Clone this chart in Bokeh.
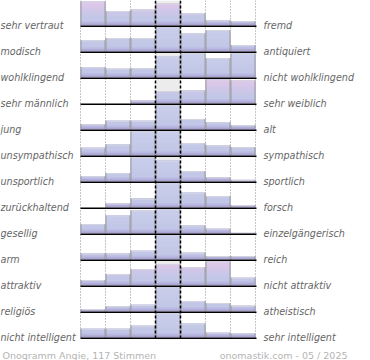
from bokeh.plotting import figure
from bokeh.models import Range1d, ColumnDataSource
from bokeh.core.properties import value
from bokeh.embed import file_html
from bokeh.resources import INLINE

# ---------------- data ----------------
left_labels = ["sehr vertraut", "modisch", "wohlklingend", "sehr männlich", " jung",
               "unsympathisch", "unsportlich", "zurückhaltend", "gesellig", "arm",
               "attraktiv", "religiös", "nicht intelligent"]
right_labels = ["fremd", "antiquiert", "nicht wohlklingend", "sehr weiblich", "alt",
                "sympathisch", "sportlich", "forsch", "einzelgängerisch", "reich",
                "nicht attraktiv", "atheistisch", "sehr intelligent"]

# relative bar heights per row (row maximum = 100), 7 steps from left to right pole
vertraut_fremd = [100, 60, 66, 93, 51, 21, 18]
modisch_antiquiert = [47, 56, 56, 100, 75, 89, 27]
wohlklingend = [43, 36, 39, 87, 100, 80, 99]
maennlich_weiblich = [0, 0, 12, 52, 54, 100, 96]
jung_alt = [22, 36, 36, 100, 44, 30, 18]
sympathisch = [32, 46, 100, 100, 51, 42, 35]
sportlich = [22, 35, 100, 86, 43, 17, 7]
zurueckhaltend_forsch = [0, 17, 37, 100, 61, 48, 10]
gesellig_einzelgaenger = [39, 75, 95, 100, 33, 20, 3]
arm_reich = [25, 25, 36, 100, 28, 14, 14]
attraktiv = [23, 48, 68, 90, 77, 100, 32]
religioes_atheistisch = [10, 21, 28, 100, 43, 35, 24]
intelligent = [36, 36, 49, 100, 58, 20, 17]

rows = [vertraut_fremd, modisch_antiquiert, wohlklingend, maennlich_weiblich, jung_alt,
        sympathisch, sportlich, zurueckhaltend_forsch, gesellig_einzelgaenger, arm_reich,
        attraktiv, religioes_atheistisch, intelligent]

footer_left = "Onogramm Angie, 117 Stimmen"
footer_right = "onomastik.com - 05 / 2025"

# ---------------- layout / style ----------------
X0, COL_W, NCOL = 80, 25, 7
FIRST_BASE, PITCH, FULL_H = 25, 26, 24
GRID_BOTTOM = FIRST_BASE + PITCH * (len(rows) - 1) + 2
pink_rows = {0, 3, 10}
band_edges = [0, 2, 4, 9, 13, 17, 20]
blue_bands = ["#aaa4d4", "#b9b9e1", "#c2c7e7", "#c4c9e8", "#c5cbe9", "#c6cce9", "#c7cdea"]
pink_bands = ["#aaa4d4", "#b9b9e1", "#c2c7e7", "#c8c7e8", "#d0c6e8", "#d8c7e9", "#dec8e9"]

p = figure(width=370, height=360, x_range=Range1d(0, 370), y_range=Range1d(360, 0),
           output_backend="svg", toolbar_location=None, x_axis_type=None, y_axis_type=None,
           min_border=0, outline_line_color=None)
p.background_fill_color = "white"
p.border_fill_color = "white"

# centre column background
p.quad(left=X0 + 3 * COL_W, right=X0 + 4 * COL_W, top=0, bottom=GRID_BOTTOM,
       fill_color="#ececec", line_color=None)

# dotted grid
dot_x = [X0 + k * COL_W for k in (0, 1, 2, 5, 6, 7)]
p.segment(x0=dot_x, y0=[0] * len(dot_x), x1=dot_x, y1=[GRID_BOTTOM] * len(dot_x),
          line_color="#8c8c8c", line_dash="1 2", line_width=1)

# bars as stacked gradient bands
bl, br, bt, bb, bc = [], [], [], [], []
el_x, el_y0, el_y1 = [], [], []
tp_x0, tp_x1, tp_y = [], [], []
for i, row in enumerate(rows):
    base = FIRST_BASE + PITCH * i
    cols = pink_bands if i in pink_rows else blue_bands
    for j, v in enumerate(row):
        h = v / 100 * FULL_H
        if h <= 0:
            continue
        left = X0 + j * COL_W
        for e, c in zip(band_edges, cols):
            if e < h:
                bl.append(left); br.append(left + COL_W)
                bt.append(base - h); bb.append(base - e); bc.append(c)
        el_x += [left + 0.5, left + COL_W - 0.5]
        el_y0 += [base, base]
        el_y1 += [base - h, base - h]
        tp_x0.append(left); tp_x1.append(left + COL_W); tp_y.append(base - h + 0.5)

p.quad(source=ColumnDataSource(dict(l=bl, r=br, t=bt, b=bb, c=bc)),
       left="l", right="r", top="t", bottom="b", fill_color="c", line_color=None)
p.segment(x0=tp_x0, y0=tp_y, x1=tp_x1, y1=tp_y, line_color="#d6d6e0", line_width=1)
p.segment(x0=el_x, y0=el_y0, x1=el_x, y1=el_y1, line_color="#9c9c9c", line_width=1)

# baselines
bases = [FIRST_BASE + PITCH * i + 0.75 for i in range(len(rows))]
p.segment(x0=[X0] * len(bases), y0=bases, x1=[X0 + NCOL * COL_W + 1] * len(bases), y1=bases,
          line_color="#000000", line_width=1.5)

# dashed centre lines
dash_x = [X0 + 3 * COL_W, X0 + 4 * COL_W]
p.segment(x0=dash_x, y0=[0, 0], x1=dash_x, y1=[GRID_BOTTOM] * 2,
          line_color="#000000", line_dash="3 2", line_width=1.5)

# labels
label_y = [FIRST_BASE + PITCH * i - 0.5 for i in range(len(rows))]
p.text(x=[0] * len(rows), y=label_y, text=left_labels, text_font=value("DejaVu Sans"),
       text_font_style="italic", text_font_size="9.6px", text_color="#666666",
       text_baseline="alphabetic", text_align="left")
p.text(x=[263] * len(rows), y=label_y, text=right_labels, text_font=value("DejaVu Sans"),
       text_font_style="italic", text_font_size="9.6px", text_color="#666666",
       text_baseline="alphabetic", text_align="left")

# footer
p.text(x=[2], y=[355], text=[footer_left], text_font=value("DejaVu Sans"),
       text_font_size="9.5px", text_color="#b4b4b4", text_baseline="alphabetic", text_align="left")
p.text(x=[347], y=[355], text=[footer_right], text_font=value("DejaVu Sans"),
       text_font_size="9.5px", text_color="#b4b4b4", text_baseline="alphabetic", text_align="right")

open("out.html", "w").write(file_html(p, INLINE))
